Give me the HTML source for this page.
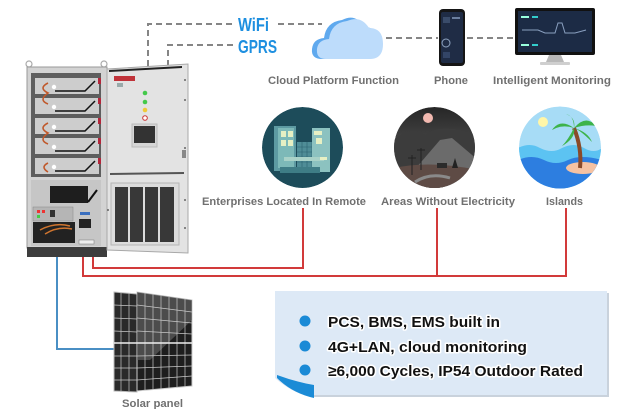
<!DOCTYPE html>
<html><head><meta charset="utf-8"><style>
html,body{margin:0;padding:0;background:#fff;}
svg{display:block;}
.lbl{font-family:"Liberation Sans",sans-serif;font-weight:bold;font-size:11px;fill:#707070;}
.bt{font-family:"Liberation Sans",sans-serif;font-weight:bold;font-size:15px;fill:#111;stroke:#fff;stroke-width:3px;paint-order:stroke;stroke-linejoin:round;}
.wg{font-family:"Liberation Sans",sans-serif;font-weight:bold;font-size:18px;fill:#1d8fe0;}
</style></head><body>
<svg width="639" height="409" viewBox="0 0 639 409" xmlns="http://www.w3.org/2000/svg">
<defs>
<linearGradient id="ag" x1="0" y1="0" x2="0" y2="1"><stop offset="0" stop-color="#262626"/><stop offset="0.55" stop-color="#4d4d4d"/><stop offset="1" stop-color="#5a4a44"/></linearGradient>
<clipPath id="c2"><circle cx="434.5" cy="147.5" r="40.5"/></clipPath>
<clipPath id="c3"><circle cx="560" cy="147.5" r="41"/></clipPath>
<clipPath id="c1"><circle cx="302.5" cy="147.5" r="40.5"/></clipPath>
</defs>

<!-- dashed comms lines -->
<g stroke="#858585" stroke-width="2" fill="none" stroke-dasharray="6,4">
<path d="M148,66 V24 H233"/>
<path d="M168,66 V45 H233"/>
<path d="M278,24 H322"/>
<path d="M386,38 H438"/>
<path d="M467,38 H514"/>
</g>
<text class="wg" x="238" y="31" textLength="31" lengthAdjust="spacingAndGlyphs">WiFi</text>
<text class="wg" x="238" y="53" textLength="39" lengthAdjust="spacingAndGlyphs">GPRS</text>

<!-- cloud -->
<path d="M322,59 Q311,59 312,49 Q313,39 324,38 Q326,22 342,20 Q356,13 364,27 Q378,27 379,43 Q379,59 366,59 Z" fill="#5fa9ee"/>
<path d="M326,59 Q316,59 317,49 Q318,40 329,39 Q331,23 347,21 Q361,15 369,28 Q383,28 383,44 Q383,59 370,59 Z" fill="#bddcfb"/>

<!-- phone -->
<rect x="439" y="9" width="26" height="57" rx="4" fill="#151515"/>
<rect x="441" y="12" width="22" height="51" rx="2" fill="#1f2c45"/>
<circle cx="446" cy="43" r="4" fill="none" stroke="#8fa4c0" stroke-width="1"/>
<rect x="443" y="17" width="7" height="6" fill="#3a4c6a"/>
<rect x="452" y="17" width="8" height="2" fill="#6b7f9e"/>
<rect x="443" y="52" width="7" height="6" fill="#334566"/>

<!-- monitor -->
<rect x="515" y="8" width="80" height="47" rx="2" fill="#111"/>
<rect x="518" y="11" width="74" height="41" fill="#1c2b45"/>
<polyline points="522,30 538,30 545,33 555,33 558,23 562,23 565,33 575,33 586,30" fill="none" stroke="#8aa0c0" stroke-width="1"/>
<rect x="521" y="16" width="8" height="2" fill="#9fd"/>
<rect x="532" y="16" width="6" height="2" fill="#3cc"/>
<rect x="521" y="44" width="8" height="2" fill="#9fd"/>
<rect x="532" y="44" width="6" height="2" fill="#3cc"/>
<polygon points="549,55 561,55 564,62 546,62" fill="#b8b8b8"/>
<rect x="540" y="62" width="30" height="3" rx="1" fill="#cfcfcf"/>

<text class="lbl" x="268" y="84" textLength="131" lengthAdjust="spacingAndGlyphs">Cloud Platform Function</text>
<text class="lbl" x="434" y="84" textLength="34" lengthAdjust="spacingAndGlyphs">Phone</text>
<text class="lbl" x="493" y="84" textLength="118" lengthAdjust="spacingAndGlyphs">Intelligent Monitoring</text>

<!-- cabinet body -->
<circle cx="29" cy="64" r="3" fill="none" stroke="#aaa" stroke-width="1.2"/>
<circle cx="104" cy="64" r="3" fill="none" stroke="#aaa" stroke-width="1.2"/>
<rect x="27" y="67" width="80" height="181" fill="#d3d3d3" stroke="#9a9a9a"/>
<rect x="31" y="73" width="70" height="104" fill="#5e5e5e"/>
<g>
<rect x="35" y="78" width="64" height="16" fill="#cdcdcd"/>
<rect x="35" y="98" width="64" height="16" fill="#cdcdcd"/>
<rect x="35" y="118" width="64" height="16" fill="#cdcdcd"/>
<rect x="35" y="138" width="64" height="16" fill="#cdcdcd"/>
<rect x="35" y="158" width="64" height="16" fill="#cdcdcd"/>
</g>
<g stroke="#111" stroke-width="1.5" fill="none">
<path d="M55,91 H85 L95,81"/><path d="M55,111 H85 L95,101"/><path d="M55,131 H85 L95,121"/><path d="M55,151 H85 L95,141"/><path d="M55,171 H85 L95,161"/>
</g>
<g stroke="#c0582a" stroke-width="1.6" fill="none">
<path d="M48,83 Q38,88 48,93 Q38,100 48,104"/><path d="M48,123 Q38,128 48,133 Q38,140 48,144"/><path d="M48,163 Q40,167 48,172"/>
</g>
<g fill="#fff"><circle cx="54" cy="87" r="2.2"/><circle cx="54" cy="107" r="2.2"/><circle cx="54" cy="127" r="2.2"/><circle cx="54" cy="147" r="2.2"/><circle cx="54" cy="167" r="2.2"/></g>
<g fill="#b3263a"><rect x="98" y="78" width="3" height="6"/><rect x="98" y="98" width="3" height="6"/><rect x="98" y="118" width="3" height="6"/><rect x="98" y="138" width="3" height="6"/><rect x="98" y="158" width="3" height="6"/></g>
<rect x="31" y="180" width="70" height="66" fill="#c6c6c6"/>
<rect x="50" y="186" width="38" height="17" fill="#1e1e1e"/>
<path d="M88,202 L97,190" stroke="#111" stroke-width="2"/>
<rect x="33" y="207" width="40" height="14" fill="#b5b5b5" stroke="#888" stroke-width="0.5"/>
<rect x="37" y="210" width="3" height="3" fill="#e33"/><rect x="42" y="210" width="3" height="3" fill="#e33"/>
<rect x="37" y="215" width="3" height="3" fill="#4c4"/><rect x="50" y="210" width="5" height="7" fill="#333"/>
<rect x="33" y="222" width="42" height="21" fill="#222"/>
<path d="M40,230 Q55,222 70,226 M45,234 Q58,226 72,229" stroke="#d0752f" stroke-width="1.5" fill="none"/>
<rect x="79" y="219" width="12" height="9" fill="#222"/>
<rect x="80" y="212" width="10" height="3" fill="#3a6fbf"/>
<rect x="79" y="240" width="15" height="4" fill="#eee" stroke="#777" stroke-width="0.5"/>
<rect x="27" y="247" width="80" height="10" fill="#3d3d3d"/>

<!-- door -->
<polygon points="107,69 188,64 188,253 107,250" fill="#e3e3e3" stroke="#a8a8a8"/>
<polygon points="109,70 182,66 182,68 109,72" fill="#222"/>
<rect x="114" y="76" width="21" height="5" fill="#c0333a"/>
<rect x="117" y="83" width="6" height="4" fill="#9aa"/>
<circle cx="145" cy="93" r="2.3" fill="#44c94a"/>
<circle cx="145" cy="102" r="2.3" fill="#44c94a"/>
<circle cx="145" cy="110" r="2.3" fill="#f0c93a"/>
<circle cx="145" cy="118" r="2.3" fill="#fff" stroke="#c33" stroke-width="1"/>
<rect x="132" y="124" width="25" height="23" fill="#d6d6d6" stroke="#bbb"/>
<rect x="134" y="126" width="21" height="17" fill="#333"/>
<line x1="110" y1="174" x2="184" y2="173" stroke="#555" stroke-width="2"/>
<rect x="111" y="183" width="68" height="62" fill="#dcdcdc" stroke="#b5b5b5"/>
<g fill="#383838">
<rect x="115" y="187" width="13" height="55"/><rect x="130" y="187" width="13" height="55"/><rect x="145" y="187" width="13" height="55"/><rect x="160" y="187" width="14" height="55"/>
</g>
<g fill="#666"><circle cx="185" cy="80" r="1"/><circle cx="185" cy="100" r="1"/><circle cx="185" cy="148" r="1"/><circle cx="185" cy="200" r="1"/><circle cx="185" cy="228" r="1"/><circle cx="108" cy="210" r="1"/></g>
<rect x="182" y="150" width="4" height="8" fill="#888"/>

<!-- red / blue cabling -->
<g stroke="#d23a3a" stroke-width="2" fill="none">
<path d="M93,257 V268 H303 V208"/>
<path d="M83,257 V276 H566 V208"/>
<path d="M437,208 V276"/>
</g>
<path d="M57,257 V349 H114" stroke="#4a8fc4" stroke-width="2" fill="none"/>

<!-- circle icons -->
<g clip-path="url(#c1)">
<circle cx="302.5" cy="147.5" r="40.5" fill="#1d4c5a"/>
<rect x="274" y="126" width="22" height="45" fill="#5d9aa2"/>
<rect x="278" y="128" width="16" height="40" fill="#7db9b8"/>
<rect x="281" y="131" width="5" height="6" fill="#e7f0c4"/><rect x="288" y="131" width="5" height="6" fill="#e7f0c4"/>
<rect x="281" y="140" width="5" height="6" fill="#e7f0c4"/><rect x="288" y="140" width="5" height="6" fill="#e7f0c4"/>
<rect x="297" y="142" width="18" height="30" fill="#4f8d97"/>
<g stroke="#2b6270" stroke-width="0.6"><line x1="297" y1="147" x2="315" y2="147"/><line x1="297" y1="152" x2="315" y2="152"/><line x1="297" y1="157" x2="315" y2="157"/><line x1="297" y1="162" x2="315" y2="162"/><line x1="302" y1="142" x2="302" y2="172"/><line x1="307" y1="142" x2="307" y2="172"/><line x1="312" y1="142" x2="312" y2="172"/></g>
<rect x="312" y="128" width="18" height="44" fill="#8cc2c0"/>
<rect x="314" y="131" width="8" height="4" fill="#e7f0c4"/><rect x="316" y="138" width="6" height="6" fill="#e7f0c4"/>
<rect x="284" y="157" width="40" height="4" fill="#a9d2c8"/>
<rect x="320" y="157" width="7" height="3" fill="#e7f0c4"/>
<rect x="280" y="167" width="40" height="6" fill="#3f7d86"/>
</g>

<g clip-path="url(#c2)">
<circle cx="434.5" cy="147.5" r="40.5" fill="url(#ag)"/>
<path d="M394,140 Q410,125 425,135 Q440,122 478,135 L478,190 L394,190 Z" fill="#3c3c3c"/>
<path d="M410,175 L440,140 L452,138 L478,160 L478,190 L410,190 Z" fill="#6b6b6b"/>
<path d="M394,168 Q430,160 478,170 L478,190 L394,190 Z" fill="#5e4b45"/>
<path d="M415,182 Q430,172 450,178" stroke="#8a8a8a" stroke-width="3" fill="none"/>
<circle cx="428" cy="118" r="5" fill="#f2b9b0"/>
<g stroke="#222" stroke-width="1"><line x1="412" y1="155" x2="412" y2="175"/><line x1="408" y1="158" x2="416" y2="158"/><line x1="421" y1="148" x2="421" y2="170"/><line x1="417" y1="150" x2="425" y2="150"/></g>
<rect x="437" y="163" width="10" height="5" fill="#2b2b2b"/>
<path d="M452,168 L455,158 L458,168 Z" fill="#222"/>
</g>

<g clip-path="url(#c3)">
<circle cx="560" cy="147.5" r="41" fill="#a7dcf6"/>
<circle cx="543" cy="122" r="5" fill="#fff6a8"/>
<path d="M518,148 Q530,142 540,148 Q552,154 562,148 Q574,142 584,148 Q594,154 602,148 L602,192 L518,192 Z" fill="#5cc3f2"/>
<path d="M518,160 Q532,154 544,160 Q556,166 568,160 Q580,154 602,160 L602,192 L518,192 Z" fill="#2d7ee0"/>
<ellipse cx="583" cy="168" rx="17" ry="6" fill="#f6c2a2"/>
<path d="M580,168 Q582,148 574,128" stroke="#8a4a2a" stroke-width="4" fill="none"/>
<path d="M574,128 Q560,118 552,130 Q562,124 574,128 Q568,140 562,146 Q576,138 574,128 Q586,114 596,126 Q586,124 574,128 Q588,132 592,142 Q580,130 574,128 Q574,116 566,114 Q576,118 574,128 Z" fill="#3db34a"/>
</g>

<text class="lbl" x="202" y="205" textLength="164" lengthAdjust="spacingAndGlyphs">Enterprises Located In Remote</text>
<text class="lbl" x="381" y="205" textLength="134" lengthAdjust="spacingAndGlyphs">Areas Without Electricity</text>
<text class="lbl" x="546" y="205" textLength="37" lengthAdjust="spacingAndGlyphs">Islands</text>

<!-- solar panel -->
<polygon points="114,292 137,294 137,392 114,391" fill="#2a2a2a" stroke="#bbb" stroke-width="1"/>
<polygon points="137,292 192,300 192,386 137,391" fill="#1e1e1e" stroke="#ccc" stroke-width="1"/>
<polygon points="137,292 192,300 192,320 150,360 137,360" fill="#6a6a6a" opacity="0.6"/>
<g stroke="#c8c8c8" stroke-width="0.7">
<line x1="145" y1="293" x2="145" y2="390"/><line x1="153" y1="294" x2="153" y2="390"/><line x1="161" y1="295" x2="161" y2="389"/><line x1="169" y1="297" x2="169" y2="388"/><line x1="177" y1="298" x2="177" y2="388"/><line x1="185" y1="299" x2="185" y2="387"/>
<line x1="137" y1="305" x2="192" y2="312"/><line x1="137" y1="318" x2="192" y2="323"/><line x1="137" y1="331" x2="192" y2="334"/><line x1="137" y1="356" x2="192" y2="355"/><line x1="137" y1="368" x2="192" y2="366"/><line x1="137" y1="380" x2="192" y2="376"/>
<line x1="121" y1="292" x2="121" y2="391"/><line x1="129" y1="293" x2="129" y2="391"/>
<line x1="114" y1="305" x2="137" y2="306"/><line x1="114" y1="318" x2="137" y2="319"/><line x1="114" y1="331" x2="137" y2="332"/><line x1="114" y1="356" x2="137" y2="356"/><line x1="114" y1="368" x2="137" y2="368"/><line x1="114" y1="380" x2="137" y2="380"/>
</g>
<line x1="114" y1="343" x2="192" y2="343" stroke="#eee" stroke-width="1.5"/>
<text class="lbl" x="122" y="407" textLength="61" lengthAdjust="spacingAndGlyphs">Solar panel</text>

<!-- feature box -->
<rect x="277" y="293" width="332" height="104" fill="#c9d2dc"/>
<rect x="275" y="291" width="332" height="104" fill="#dde9f6"/>
<path d="M274,377 Q292,394 316,398 L274,399 Z" fill="#fff"/>
<path d="M277,375 Q296,382 314,385 L314,398 Q292,393 277,378 Z" fill="#1b8bd6"/>
<circle cx="305" cy="321" r="5.5" fill="#1a8ad6"/>
<circle cx="305" cy="346" r="5.5" fill="#1a8ad6"/>
<circle cx="305" cy="370" r="5.5" fill="#1a8ad6"/>
<text class="bt" x="328" y="327" textLength="172" lengthAdjust="spacingAndGlyphs">PCS, BMS, EMS built in</text>
<text class="bt" x="328" y="352" textLength="199" lengthAdjust="spacingAndGlyphs">4G+LAN, cloud monitoring</text>
<text class="bt" x="328" y="376" textLength="255" lengthAdjust="spacingAndGlyphs">≥6,000 Cycles, IP54 Outdoor Rated</text>
</svg>
</body></html>
